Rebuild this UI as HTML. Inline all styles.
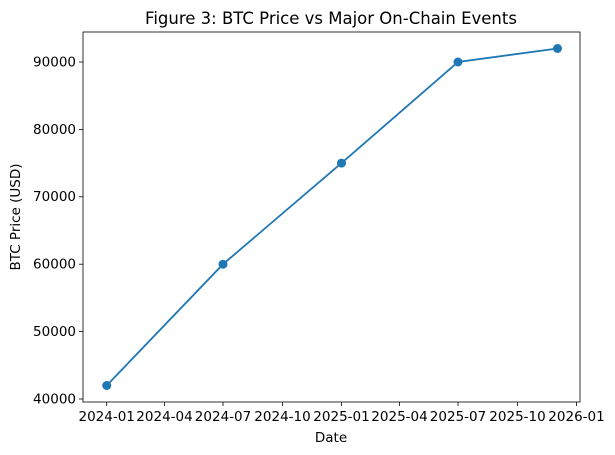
<!DOCTYPE html>
<html><head><style>body{margin:0;background:#fff}svg{display:block}</style></head><body>
<svg width="615" height="455" xmlns="http://www.w3.org/2000/svg" font-family="DejaVu Sans, Liberation Sans, sans-serif" font-size="13.5">
<text x="331" y="24" text-anchor="middle" font-size="16.5">Figure 3: BTC Price vs Major On-Chain Events</text>
<g stroke="#000" stroke-width="0.8">
<line x1="83" y1="399" x2="79" y2="399"/><line x1="83" y1="331.6" x2="79" y2="331.6"/><line x1="83" y1="264.2" x2="79" y2="264.2"/><line x1="83" y1="196.8" x2="79" y2="196.8"/><line x1="83" y1="129.4" x2="79" y2="129.4"/><line x1="83" y1="62" x2="79" y2="62"/>
<line x1="106.7" y1="402" x2="106.7" y2="406"/><line x1="164.5" y1="402" x2="164.5" y2="406"/><line x1="223" y1="402" x2="223" y2="406"/><line x1="282.5" y1="402" x2="282.5" y2="406"/><line x1="341.5" y1="402" x2="341.5" y2="406"/><line x1="399.5" y1="402" x2="399.5" y2="406"/><line x1="458" y1="402" x2="458" y2="406"/><line x1="517.5" y1="402" x2="517.5" y2="406"/><line x1="576.5" y1="402" x2="576.5" y2="406"/>
</g>
<g text-anchor="end">
<text x="76" y="403.5">40000</text><text x="76" y="336">50000</text><text x="76" y="268.5">60000</text><text x="76" y="201">70000</text><text x="76" y="134">80000</text><text x="76" y="66.5">90000</text>
</g>
<g text-anchor="middle">
<text x="106.7" y="421">2024-01</text><text x="164.5" y="421">2024-04</text><text x="223" y="421">2024-07</text><text x="282.5" y="421">2024-10</text><text x="341.5" y="421">2025-01</text><text x="399.5" y="421">2025-04</text><text x="458" y="421">2025-07</text><text x="517.5" y="421">2025-10</text><text x="576.5" y="421">2026-01</text>
<text x="331" y="442">Date</text>
</g>
<text transform="translate(20,217) rotate(-90)" text-anchor="middle">BTC Price (USD)</text>
<polyline points="106.7,385.5 223,264.2 341.5,163.1 458,62 557.5,48.5" fill="none" stroke="#1f77b4" stroke-width="1.8"/>
<g fill="#1f77b4"><circle cx="106.7" cy="385.5" r="4.5"/><circle cx="223" cy="264.2" r="4.5"/><circle cx="341.5" cy="163.1" r="4.5"/><circle cx="458" cy="62" r="4.5"/><circle cx="557.5" cy="48.5" r="4.5"/></g>
<rect x="83" y="32" width="497" height="370" fill="none" stroke="#000" stroke-width="0.8"/>
</svg>
</body></html>
